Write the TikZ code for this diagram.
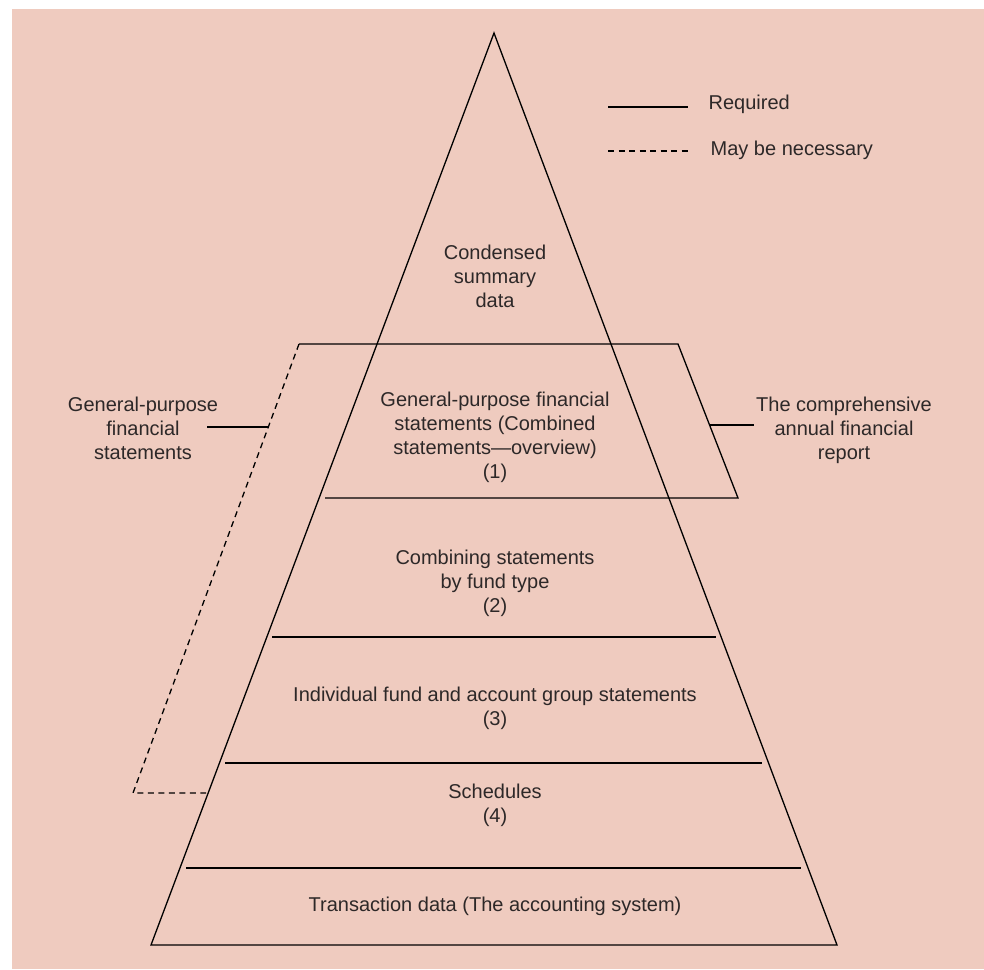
\documentclass[tikz,border=0pt]{standalone}
\usepackage{fontspec}
\setmainfont{Liberation Sans}
\definecolor{bgpink}{RGB}{239,203,191}
\definecolor{txt}{RGB}{45,40,40}
\begin{document}
\begin{tikzpicture}[x=1pt,y=-1pt,line width=1.3pt,
  lbl/.style={text=txt,align=center,font=\fontsize{20}{24}\selectfont,inner sep=0pt},
  solidline/.style={draw=black,line width=1.3pt},
  dashline/.style={draw=black,line width=1.3pt,dash pattern=on 6pt off 4.5pt}]
\useasboundingbox (0,0) rectangle (984,969);
\fill[bgpink] (12,9) rectangle (984,969);

% pyramid
\coordinate (apex) at (494,33);
\coordinate (bl) at (151,945);
\coordinate (br) at (837,945);
\draw[solidline,line join=miter] (bl) -- (apex) -- (br) -- cycle;

% band lines
\coordinate (b2l) at (272,637); \coordinate (b2r) at (716,637);
\coordinate (b3l) at (225,763); \coordinate (b3r) at (762,763);
\coordinate (b4l) at (186,868); \coordinate (b4r) at (801,868);
\draw[solidline] (b2l) -- (b2r);
\draw[solidline] (b3l) -- (b3r);
\draw[solidline] (b4l) -- (b4r);

% report frame
\coordinate (ptl) at (299,344);
\coordinate (ptr) at (678,344);
\coordinate (pbr) at (738,498);
\coordinate (pbl) at (325,498);
\coordinate (dbl) at (133,793);
\coordinate (dbr) at (206,793);
\draw[solidline] (pbl) -- (pbr) -- (ptr) -- (ptl);
\draw[dashline] (ptl) -- (dbl) -- (dbr);

% legend
\coordinate (lg1a) at (608,107); \coordinate (lg1b) at (688,107);
\coordinate (lg2a) at (608,151); \coordinate (lg2b) at (690,151);
\draw[solidline] (lg1a) -- (lg1b);
\draw[dashline] (lg2a) -- (lg2b);
\node[lbl,anchor=west] (req) at (708,104) {Required};
\node[lbl,anchor=west] (may) at (710,150) {May be necessary};

% pyramid texts
\node[lbl] (cond) at (495,276) {Condensed\\summary\\data};
\node[lbl] (gpfs) at (495,437) {General-purpose financial\\statements (Combined\\statements—overview)\\(1)};
\node[lbl] (comb) at (495,583) {Combining statements\\by fund type\\(2)};
\node[lbl] (indiv) at (495,708) {Individual fund and account group statements\\(3)};
\node[lbl] (sched) at (495,805) {Schedules\\(4)};
\node[lbl] (trans) at (495,906) {Transaction data (The accounting system)};

% side labels
\node[lbl] (left) at (143,428) {General-purpose\\financial\\statements};
\node[lbl] (right) at (844,430) {The comprehensive\\annual financial\\report};
\coordinate (cl1) at (207,427); \coordinate (cl2) at (269,427);
\coordinate (cr1) at (710,425); \coordinate (cr2) at (754,425);
\draw[solidline] (cl1) -- (cl2);
\draw[solidline] (cr1) -- (cr2);
\end{tikzpicture}
\end{document}
